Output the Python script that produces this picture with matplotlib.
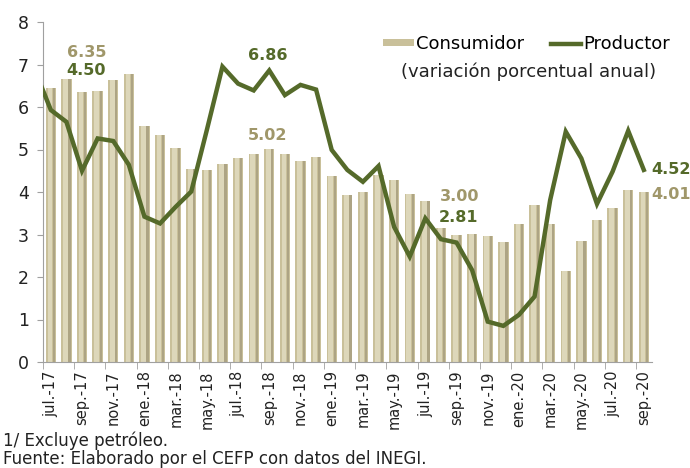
import matplotlib
matplotlib.use('Agg')
import matplotlib.pyplot as plt
from matplotlib.lines import Line2D
from matplotlib.patches import Patch
import numpy as np

# Monthly data, jul-17 .. sep-20 (annual % change)
months = ['jul.-17', 'ago.-17', 'sep.-17', 'oct.-17', 'nov.-17', 'dic.-17',
          'ene.-18', 'feb.-18', 'mar.-18', 'abr.-18', 'may.-18', 'jun.-18',
          'jul.-18', 'ago.-18', 'sep.-18', 'oct.-18', 'nov.-18', 'dic.-18',
          'ene.-19', 'feb.-19', 'mar.-19', 'abr.-19', 'may.-19', 'jun.-19',
          'jul.-19', 'ago.-19', 'sep.-19', 'oct.-19', 'nov.-19', 'dic.-19',
          'ene.-20', 'feb.-20', 'mar.-20', 'abr.-20', 'may.-20', 'jun.-20',
          'jul.-20', 'ago.-20', 'sep.-20']

consumidor = [6.44, 6.66, 6.35, 6.37, 6.63, 6.77, 5.55, 5.34, 5.04, 4.55,
              4.51, 4.65, 4.81, 4.90, 5.02, 4.90, 4.72, 4.83, 4.37, 3.94,
              4.00, 4.41, 4.28, 3.95, 3.78, 3.16, 3.00, 3.02, 2.97, 2.83,
              3.24, 3.70, 3.25, 2.15, 2.84, 3.33, 3.62, 4.05, 4.01]

productor = [5.93, 5.65, 4.50, 5.26, 5.20, 4.64, 3.42, 3.26, 3.65, 4.01,
             5.46, 6.95, 6.55, 6.39, 6.86, 6.28, 6.52, 6.41, 4.99, 4.52,
             4.24, 4.61, 3.18, 2.48, 3.38, 2.89, 2.81, 2.16, 0.95, 0.85,
             1.11, 1.54, 3.81, 5.42, 4.79, 3.72, 4.48, 5.44, 4.52]
productor_jun17 = 6.85   # previous month, only its tail shows at the axis edge

TAN = '#C9C09A'
TAN_LIGHT = '#DDD7BA'
TAN_TXT = '#A0976A'
OLIVE = '#556A2A'

plt.rcParams.update({
    'font.family': 'DejaVu Sans',
    'font.size': 11,
})

fig = plt.figure(figsize=(6.9, 4.68), dpi=100)
ax = fig.add_axes([43 / 690, 1 - 362 / 468, (651.6 - 43) / 690, 340 / 468])

x = np.arange(len(months))

# bars with a simple cylinder look
ax.bar(x, consumidor, width=0.66, color=TAN, edgecolor='none', zorder=1)
ax.bar(x + 0.2, consumidor, width=0.14, color='#ADA484', edgecolor='none', zorder=2)
ax.bar(x - 0.06, consumidor, width=0.3, color=TAN_LIGHT, edgecolor='none', zorder=2)

# productor line (includes jun-17 so the line enters from the axis edge)
xl = np.concatenate([[-1], x])
yl = np.concatenate([[productor_jun17], productor])
ax.plot(xl, yl, color=OLIVE, linewidth=3.2, solid_joinstyle='miter', zorder=3)

ax.set_xlim(-0.5, 38.5)
ax.set_ylim(0, 8)

ax.set_yticks(range(0, 9))
ax.tick_params(axis='y', labelsize=12.5, length=4, color='#A0A0A0', pad=6,
               labelcolor='#222222')

ax.set_xticks(x[::2])
ax.set_xticklabels(months[::2], rotation=90, fontsize=10.5, color='#222222')
ax.set_xticks(np.arange(-0.5, 39, 2), minor=True)
ax.tick_params(axis='x', which='major', length=0, pad=6)
ax.tick_params(axis='x', which='minor', length=5, color='#A0A0A0')

for s in ['top', 'right']:
    ax.spines[s].set_visible(False)
for s in ['left', 'bottom']:
    ax.spines[s].set_color('#A0A0A0')

# value labels
lab = dict(fontsize=11.5, fontweight='bold', va='center', clip_on=False)
ax.text(2.3, 7.29, f'{consumidor[2]:.2f}', color=TAN_TXT, ha='center', **lab)
ax.text(2.25, 6.87, f'{productor[2]:.2f}', color=OLIVE, ha='center', **lab)
ax.text(13.9, 7.22, f'{productor[14]:.2f}', color=OLIVE, ha='center', **lab)
ax.text(13.9, 5.34, f'{consumidor[14]:.2f}', color=TAN_TXT, ha='center', **lab)
ax.text(26.2, 3.90, f'{consumidor[26]:.2f}', color=TAN_TXT, ha='center', **lab)
ax.text(26.15, 3.39, f'{productor[26]:.2f}', color=OLIVE, ha='center', **lab)
ax.text(38.5, 4.54, f'{productor[38]:.2f}', color=OLIVE, ha='left', **lab)
ax.text(38.5, 3.95, f'{consumidor[38]:.2f}', color=TAN_TXT, ha='left', **lab)

handles = [Patch(facecolor=TAN, edgecolor='none'),
           Line2D([0], [0], color=OLIVE, linewidth=3.2)]
fig.legend(handles, ['Consumidor', 'Productor'], loc='center right',
           bbox_to_anchor=(670 / 690, 1 - 44 / 468), ncol=2, frameon=False,
           fontsize=13, handlelength=1.7, handleheight=0.3, handletextpad=0.1,
           columnspacing=1.5, borderaxespad=0, borderpad=0)
fig.text(529 / 690, 1 - 72 / 468, '(variación porcentual anual)', fontsize=13,
         ha='center', va='center', color='#222222')

fig.text(3 / 690, 1 - 441 / 468, '1/ Excluye petróleo.', fontsize=12,
         ha='left', va='center', color='#222222')
fig.text(3 / 690, 1 - 459 / 468, 'Fuente: Elaborado por el CEFP con datos del INEGI.',
         fontsize=12, ha='left', va='center', color='#222222')

fig.savefig('out.png', dpi=100)
